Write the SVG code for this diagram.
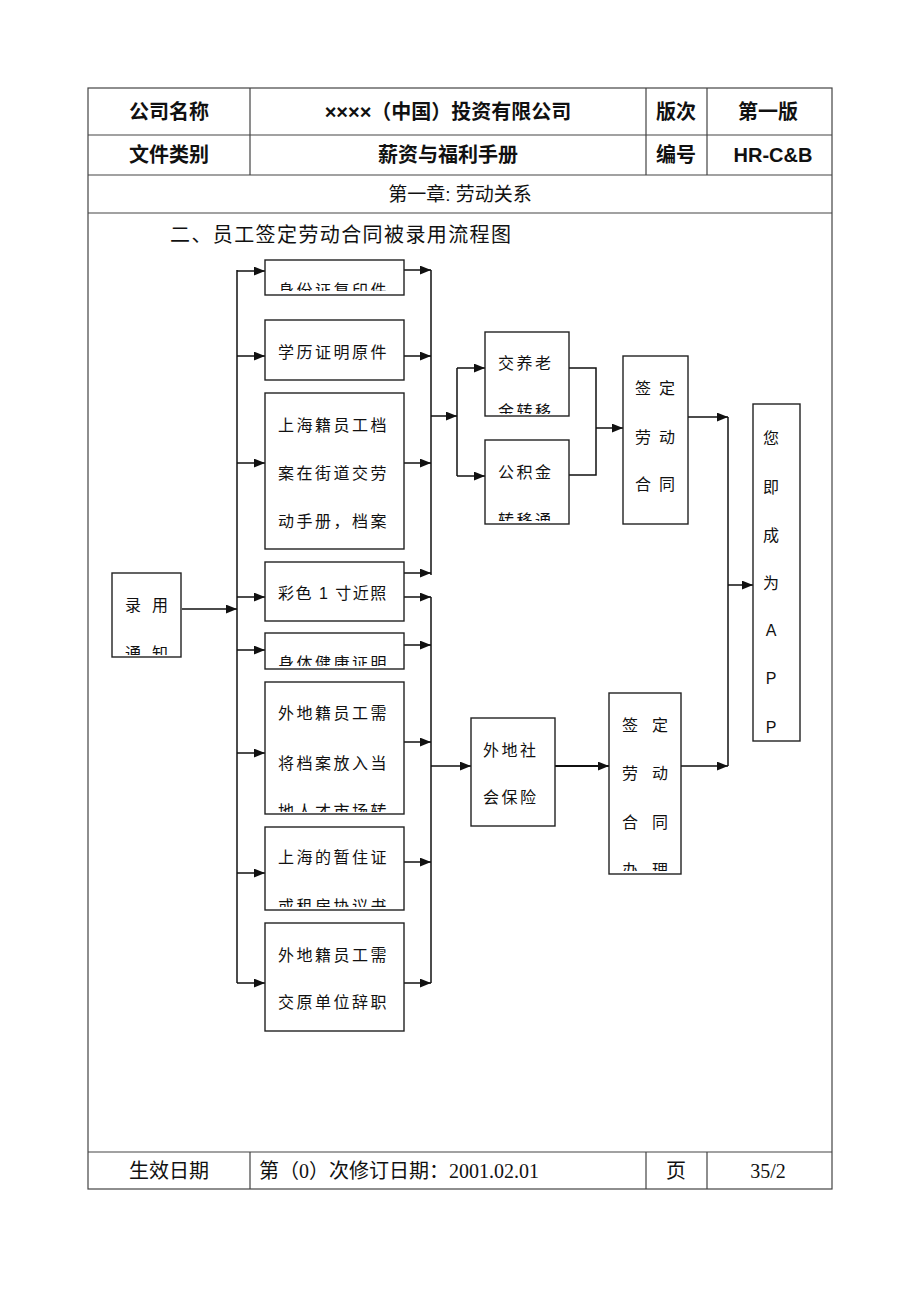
<svg xmlns="http://www.w3.org/2000/svg" width="920" height="1302" viewBox="0 0 920 1302">
<style>
.tb{fill:none;stroke:#444;stroke-width:1.2}
.hd{font-family:"Liberation Sans","Noto Sans CJK SC",sans-serif;font-size:20px;font-weight:bold;fill:#111;text-anchor:middle}
.hn{font-family:"Liberation Sans","Noto Sans CJK SC",sans-serif;font-size:19px;fill:#111;text-anchor:middle}
.ft{font-family:"Liberation Serif","Noto Sans CJK SC",serif;font-size:20px;fill:#111}
.box{fill:#fff;stroke:#222;stroke-width:1.4}
.t{font-family:"Liberation Sans","Noto Sans CJK SC",sans-serif;font-size:16px;fill:#111;letter-spacing:2.5px}
.tc{font-family:"Liberation Sans","Noto Sans CJK SC",sans-serif;font-size:16px;fill:#111;text-anchor:middle}
.ln{fill:none;stroke:#111;stroke-width:1.5}
.ar{fill:none;stroke:#111;stroke-width:1.5;marker-end:url(#ah)}
</style>
<defs>
<marker id="ah" viewBox="0 0 10 8" refX="10" refY="4" markerWidth="11" markerHeight="9" markerUnits="userSpaceOnUse" orient="auto"><path d="M0,0 L10,4 L0,8 z" fill="#111"/></marker>
<clipPath id="c1"><rect x="265" y="260" width="139" height="31"/></clipPath>
<clipPath id="c0"><rect x="112" y="573" width="69" height="82"/></clipPath>
<clipPath id="c5"><rect x="265" y="633" width="139" height="33"/></clipPath>
<clipPath id="c6"><rect x="265" y="682" width="139" height="130"/></clipPath>
<clipPath id="c7"><rect x="265" y="827" width="139" height="80"/></clipPath>
<clipPath id="ca"><rect x="485" y="332" width="84" height="82"/></clipPath>
<clipPath id="cb"><rect x="485" y="440" width="84" height="81"/></clipPath>
<clipPath id="cd"><rect x="609" y="693" width="72" height="178"/></clipPath>
</defs>
<rect width="920" height="1302" fill="#fff"/>
<g id="table">
<rect class="tb" x="88" y="88" width="744" height="1101"/>
<path class="tb" d="M88,135 H832 M88,175 H832 M88,213 H832 M88,1152 H832 M250,88 V175 M646,88 V175 M707,88 V175 M250,1152 V1189 M646,1152 V1189 M707,1152 V1189"/>
<text class="hd" x="169" y="119">公司名称</text>
<text class="hd" x="448" y="119">××××（中国）投资有限公司</text>
<text class="hd" x="676" y="119">版次</text>
<text class="hd" x="768" y="119">第一版</text>
<text class="hd" x="169" y="162">文件类别</text>
<text class="hd" x="448" y="162">薪资与福利手册</text>
<text class="hd" x="676" y="162">编号</text>
<text class="hd" x="773" y="162">HR-C&amp;B</text>
<text class="hn" x="460" y="201">第一章: 劳动关系</text>
<text class="hn" x="169" y="1178" style="font-size:20px">生效日期</text>
<text class="ft" x="259" y="1178">第（0）次修订日期：2001.02.01</text>
<text class="hn" x="676" y="1178" style="font-size:20px">页</text>
<text class="ft" x="768" y="1178" text-anchor="middle">35/2</text>
<text x="170" y="242" style="font-family:'Liberation Sans','Noto Sans CJK SC',sans-serif;font-size:20px;letter-spacing:1.4px;fill:#111">二、员工签定劳动合同被录用流程图</text>
</g>
<g id="connectors">
<path class="ar" d="M182,609 H237"/>
<path class="ln" d="M237,270 V983"/>
<path class="ar" d="M237,271 H265"/>
<path class="ar" d="M237,356 H265"/>
<path class="ar" d="M237,463 H265"/>
<path class="ar" d="M237,597 H265"/>
<path class="ar" d="M237,650 H265"/>
<path class="ar" d="M237,753 H265"/>
<path class="ar" d="M237,873 H265"/>
<path class="ar" d="M237,983 H265"/>
<path class="ln" d="M431,270 V575"/>
<path class="ar" d="M404,270 H431"/>
<path class="ar" d="M404,356 H431"/>
<path class="ar" d="M404,463 H431"/>
<path class="ar" d="M404,573 H431"/>
<path class="ar" d="M431,416 H457"/>
<path class="ln" d="M457,368 V476"/>
<path class="ar" d="M457,368 H485"/>
<path class="ar" d="M457,476 H485"/>
<path class="ln" d="M569,368 H596 V475 H569"/>
<path class="ar" d="M596,428 H623"/>
<path class="ar" d="M688,417 H728"/>
<path class="ln" d="M728,417 V766"/>
<path class="ar" d="M728,585 H753"/>
<path class="ln" d="M431,597 V983"/>
<path class="ar" d="M404,597 H431"/>
<path class="ar" d="M404,645 H431"/>
<path class="ar" d="M404,742 H431"/>
<path class="ar" d="M404,862 H431"/>
<path class="ar" d="M404,983 H431"/>
<path class="ar" d="M431,766 H471"/>
<path class="ar" d="M555,766 H609" style="stroke-width:2.2"/>
<path class="ar" d="M681,766 H728"/>
</g>
<g id="n-luyong">
<rect class="box" x="112" y="573" width="69" height="84"/>
<g clip-path="url(#c0)">
<text class="tc" x="133" y="611">录</text><text class="tc" x="160" y="611">用</text>
<text class="tc" x="133" y="659">通</text><text class="tc" x="160" y="659">知</text>
</g>
</g>
<g id="n-id">
<rect class="box" x="265" y="260" width="139" height="35"/>
<text class="t" x="278" y="296" clip-path="url(#c1)">身份证复印件</text>
</g>
<g id="n-edu">
<rect class="box" x="265" y="320" width="139" height="60"/>
<text class="t" x="278" y="358">学历证明原件</text>
</g>
<g id="n-sh">
<rect class="box" x="265" y="393" width="139" height="156"/>
<text class="t" x="278" y="431">上海籍员工档</text>
<text class="t" x="278" y="479">案在街道交劳</text>
<text class="t" x="278" y="527">动手册，档案</text>
</g>
<g id="n-photo">
<rect class="box" x="265" y="562" width="139" height="59"/>
<text class="t" x="278" y="599" style="letter-spacing:1.5px">彩色 1 寸近照</text>
</g>
<g id="n-health">
<rect class="box" x="265" y="633" width="139" height="36"/>
<text class="t" x="278" y="669" clip-path="url(#c5)">身体健康证明</text>
</g>
<g id="n-waidi">
<rect class="box" x="265" y="682" width="139" height="132"/>
<g clip-path="url(#c6)">
<text class="t" x="278" y="719">外地籍员工需</text>
<text class="t" x="278" y="769">将档案放入当</text>
<text class="t" x="278" y="817">地人才市场转</text>
</g>
</g>
<g id="n-zhanzhu">
<rect class="box" x="265" y="827" width="139" height="83"/>
<g clip-path="url(#c7)">
<text class="t" x="278" y="863">上海的暂住证</text>
<text class="t" x="278" y="912">或租房协议书</text>
</g>
</g>
<g id="n-cizhi">
<rect class="box" x="265" y="923" width="139" height="108"/>
<text class="t" x="278" y="961">外地籍员工需</text>
<text class="t" x="278" y="1008">交原单位辞职</text>
</g>
<g id="n-yanglao">
<rect class="box" x="485" y="332" width="84" height="84"/>
<g clip-path="url(#ca)">
<text class="t" x="498" y="369">交养老</text>
<text class="t" x="498" y="417">金转移</text>
</g>
</g>
<g id="n-gongjijin">
<rect class="box" x="485" y="440" width="84" height="84"/>
<g clip-path="url(#cb)">
<text class="t" x="498" y="478">公积金</text>
<text class="t" x="498" y="526">转移通</text>
</g>
</g>
<g id="n-hetong1">
<rect class="box" x="623" y="356" width="65" height="168"/>
<text class="tc" x="643" y="394">签</text><text class="tc" x="667" y="394">定</text>
<text class="tc" x="643" y="443">劳</text><text class="tc" x="667" y="443">动</text>
<text class="tc" x="643" y="490">合</text><text class="tc" x="667" y="490">同</text>
</g>
<g id="n-app">
<rect class="box" x="753" y="404" width="47" height="337"/>
<text class="tc" x="771" y="444">您</text>
<text class="tc" x="771" y="493">即</text>
<text class="tc" x="771" y="541">成</text>
<text class="tc" x="771" y="589">为</text>
<text class="tc" x="771" y="636">A</text>
<text class="tc" x="771" y="684">P</text>
<text class="tc" x="771" y="733">P</text>
</g>
<g id="n-shebao">
<rect class="box" x="471" y="718" width="84" height="108"/>
<text class="t" x="483" y="756">外地社</text>
<text class="t" x="483" y="803">会保险</text>
</g>
<g id="n-hetong2">
<rect class="box" x="609" y="693" width="72" height="181"/>
<g clip-path="url(#cd)">
<text class="tc" x="630" y="731">签</text><text class="tc" x="660" y="731">定</text>
<text class="tc" x="630" y="779">劳</text><text class="tc" x="660" y="779">动</text>
<text class="tc" x="630" y="828">合</text><text class="tc" x="660" y="828">同</text>
<text class="tc" x="630" y="876">办</text><text class="tc" x="660" y="876">理</text>
</g>
</g>
</svg>
